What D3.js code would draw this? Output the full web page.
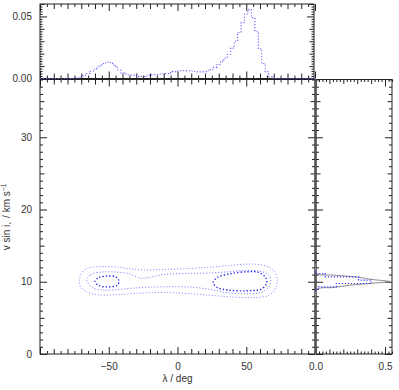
<!DOCTYPE html>
<html>
<head>
<meta charset="utf-8">
<script src="https://cdn.jsdelivr.net/npm/d3@7"></script>
<style>
  body { margin: 0; background: #fff; }
  text { font-family: "Liberation Sans", Arial, sans-serif; font-size: 10px; fill: #333; }
  .tick line { stroke: #222; }
</style>
</head>
<body>
<div id="chart"></div>
<script>
// ---- data ----

// top panel: distribution of lambda
const lamX = [-100, -75, -72.5, -70, -67.5, -65, -62.5, -60, -57.5, -55, -52.5, -50, -47.5, -45, -42.5, -40,
  -37.5, -35, -32.5, -30, -27.5, -25, -22.5, -20, -17.5, -15, -12.5, -10, -7.5, -5, -2.5, 0, 2.5, 5, 7.5, 10,
  12.5, 15, 17.5, 20, 22.5, 25, 27.5, 30, 32.5, 35, 37.5, 40, 42.5, 45, 47.5, 50, 52.5, 55, 57.5, 60, 62.5,
  65, 67.5, 70, 72.5, 100];
const lamDensity = [0, 0, 0.0005, 0.0012, 0.0025, 0.004, 0.0058, 0.0075, 0.0095, 0.011, 0.0125, 0.0133, 0.0122,
  0.0098, 0.0068, 0.0045, 0.0035, 0.003, 0.0027, 0.0022, 0.0017, 0.0016, 0.002, 0.0026, 0.003, 0.0032, 0.0034,
  0.0036, 0.004, 0.0047, 0.0055, 0.006, 0.0063, 0.0064, 0.0063, 0.006, 0.0056, 0.0053, 0.0053, 0.0055, 0.0062,
  0.0072, 0.009, 0.0112, 0.0138, 0.0165, 0.0195, 0.0245, 0.03, 0.037, 0.045, 0.052, 0.0555, 0.049, 0.038,
  0.024, 0.012, 0.0055, 0.0015, 0.0003, 0, 0];

// right panel: histogram of v sin i (bin edges + heights)
const vEdges = [8.84, 9.30, 9.76, 10.22, 10.68, 11.14, 11.60];
const vHist = [0.02, 0.15, 0.40, 0.31, 0.07, 0.0];

// right panel: smooth curve
const vCurve = [7.5, 8.94, 9.21, 9.53, 9.77, 10.04, 10.13, 10.36, 10.6, 10.92, 11.15, 12.5];
const pCurve = [0, 0.01, 0.13, 0.25, 0.40, 0.535, 0.5, 0.39, 0.32, 0.13, 0.01, 0];

// main panel: contour outlines [lambda, vsini]
const contourOuter = [[-71.4, 10.2], [-69, 11.4], [-64, 11.95], [-55, 12.1], [-45, 12.05], [-35, 11.8],
  [-25, 11.65], [-10, 11.7], [10, 11.85], [25, 12.05], [40, 12.3], [52, 12.45], [62, 12.3], [69, 11.7],
  [72.6, 10.4], [71, 9.0], [66, 8.1], [55, 7.82], [40, 7.9], [25, 8.1], [10, 8.35], [-10, 8.5], [-30, 8.4],
  [-45, 8.2], [-58, 8.2], [-66, 8.6], [-70.5, 9.3]];
const contourMiddle = [[-66, 10.2], [-63, 11.0], [-55, 11.35], [-45, 11.35], [-35, 11.1], [-27, 10.5],
  [-22, 10.55], [-10, 11.0], [5, 11.15], [20, 11.2], [35, 11.35], [50, 11.55], [60, 11.45], [66, 11.0],
  [67.8, 10.2], [66, 9.2], [60, 8.5], [50, 8.35], [35, 8.5], [25, 8.9], [10, 9.25], [-10, 9.3], [-30, 9.15],
  [-45, 8.9], [-55, 8.85], [-62, 9.2]];
const contourInnerL = [[-60, 10.05], [-57, 10.6], [-51, 10.78], [-45, 10.7], [-42.5, 10.1], [-44, 9.5],
  [-50, 9.3], [-57, 9.45]];
const contourInnerR = [[26, 9.9], [29, 10.6], [38, 11.1], [50, 11.38], [59, 11.3], [64, 10.6], [64.8, 9.8],
  [61, 9.0], [50, 8.75], [37, 8.85], [29, 9.2]];

// tick labels
const lamLabels = [-50, 0, 50];
const vLabels = [0, 10, 20, 30];
const densLabels = [0, 0.05];
const pLabels = [0, 0.5];

// ---- layout ----
const W = 399, H = 390;
const main = { l: 40, r: 315, t: 79.5, b: 354 };
const topP = { t: 4, b: 78.5 };
const side = { l: 316, r: 392 };

const svg = d3.select("#chart").append("svg").attr("width", W).attr("height", H);

const x = d3.scaleLinear().domain([-100, 100]).range([main.l, main.r]);
const y = d3.scaleLinear().domain([0, 38]).range([main.b, main.t]);
const yTop = d3.scaleLinear().domain([0, 0.06]).range([topP.b, topP.t]);
const xSide = d3.scaleLinear().domain([0, 0.55]).range([side.l - 0.5, side.r]);

const near = (v, m) => Math.abs(v / m - Math.round(v / m)) < 1e-6;

function ticks(axisFn, scale, vals, tx, ty, lenFn, labelVals, fmt, pad) {
  vals.forEach(v => {
    const g = svg.append("g").attr("transform", `translate(${tx},${ty})`);
    const labelled = labelVals && labelVals.some(l => Math.abs(l - v) < 1e-9);
    g.call(axisFn(scale).tickValues([v]).tickSize(-lenFn(v)).tickPadding(pad || 3)
      .tickFormat(labelled ? fmt : () => ""));
    g.select(".domain").remove();
  });
}

const lamVals = d3.range(-20, 21).map(i => i * 5);
const lamLen = v => near(v, 50) ? 7 : near(v, 10) ? 5 : 3;
const vVals = d3.range(0, 39);
const vLen = v => near(v, 10) ? 7 : near(v, 5) ? 4.5 : 3;
const dVals = d3.range(0, 31).map(i => i * 0.002);
const dLen = v => near(v, 0.05) ? 7 : near(v, 0.01) ? 4.5 : 2.5;
const pVals = d3.range(0, 23).map(i => i * 0.025);
const pLen = v => near(v, 0.5) ? 7 : near(v, 0.1) ? 4.5 : 2.5;

const fmtLam = d => String(d).replace("-", "\u2212");

// main panel ticks
ticks(d3.axisBottom, x, lamVals, 0, main.b, lamLen, lamLabels, fmtLam, 9);
ticks(d3.axisTop, x, lamVals, 0, main.t, lamLen);
ticks(d3.axisLeft, y, vVals, main.l, 0, vLen, vLabels, d3.format("d"), 8);
ticks(d3.axisRight, y, vVals, main.r, 0, vLen);

// top panel ticks
ticks(d3.axisBottom, x, lamVals, 0, topP.b, lamLen);
ticks(d3.axisTop, x, lamVals, 0, topP.t, lamLen);
ticks(d3.axisLeft, yTop, dVals, main.l, 0, dLen, densLabels, d3.format(".2f"), 8);
ticks(d3.axisRight, yTop, dVals, main.r - 1, 0, dLen);

// side panel ticks
ticks(d3.axisBottom, xSide, pVals, 0, main.b, pLen, pLabels, d3.format(".1f"), 9);
ticks(d3.axisTop, xSide, pVals, 0, main.t, pLen);
ticks(d3.axisLeft, y, vVals, side.l, 0, vLen);
ticks(d3.axisRight, y, vVals, side.r, 0, vLen);

// frames
svg.append("rect").attr("x", main.l).attr("y", main.t).attr("width", main.r - main.l).attr("height", main.b - main.t)
  .attr("fill", "none").attr("stroke", "#222");
svg.append("rect").attr("x", main.l).attr("y", topP.t).attr("width", main.r - 1 - main.l).attr("height", topP.b - topP.t)
  .attr("fill", "none").attr("stroke", "#222");
svg.append("rect").attr("x", side.l).attr("y", main.t).attr("width", side.r - side.l).attr("height", main.b - main.t)
  .attr("fill", "none").attr("stroke", "#222");
svg.append("line").attr("x1", main.r + 0.5).attr("x2", main.r + 0.5).attr("y1", main.t).attr("y2", main.b)
  .attr("stroke", "#555").attr("stroke-width", 2);

// contours
const contourLine = d3.line().x(d => x(d[0])).y(d => y(d[1])).curve(d3.curveCatmullRomClosed.alpha(0.5));
[[contourOuter, "#8080ff", 1, "1,2"], [contourMiddle, "#7070ff", 1, "1,2"],
 [contourInnerL, "#2a2aee", 1.4, "1.4,2"], [contourInnerR, "#2a2aee", 1.4, "1.4,2"]].forEach(([pts, c, w, da]) => {
  svg.append("path").attr("d", contourLine(pts)).attr("fill", "none")
    .attr("stroke", c).attr("stroke-width", w).attr("stroke-dasharray", da);
});

// top distribution
const lamPts = lamX.map((v, i) => [v, lamDensity[i]]);
svg.append("path")
  .attr("d", d3.line().x(d => x(d[0])).y(d => yTop(d[1])).curve(d3.curveStep)(lamPts))
  .attr("fill", "none").attr("stroke", "#5a5aff").attr("stroke-width", 1.1).attr("stroke-dasharray", "1.1,1.9");

// side: smooth curve
const curvePts = vCurve.map((v, i) => [pCurve[i], v]);
svg.append("path")
  .attr("d", d3.line().x(d => xSide(d[0])).y(d => y(d[1])).curve(d3.curveCatmullRom)(curvePts))
  .attr("fill", "none").attr("stroke", "#8a8a8a").attr("stroke-width", 1);

// side: step histogram
const histPts = [[0, vEdges[0]]];
vHist.forEach((h, i) => { histPts.push([h, vEdges[i]]); histPts.push([h, vEdges[i + 1]]); });
histPts.push([0, vEdges[vEdges.length - 1]]);
svg.append("path")
  .attr("d", d3.line().x(d => xSide(d[0])).y(d => y(d[1]))(histPts))
  .attr("fill", "none").attr("stroke", "#3a3aff").attr("stroke-width", 1.2).attr("stroke-dasharray", "1.2,1.8");

// axis titles
svg.append("text").attr("x", x(0)).attr("y", 382).attr("text-anchor", "middle").text("\u03bb / deg");
const yl = svg.append("text").attr("transform", `translate(10,${(main.t + main.b) / 2}) rotate(-90)`)
  .attr("text-anchor", "middle");
yl.append("tspan").text("v sin i");
yl.append("tspan").attr("font-size", "6px").attr("dy", 2).text("\u22c6");
yl.append("tspan").attr("dy", -2).text(" / km s");
yl.append("tspan").attr("font-size", "7px").attr("dy", -4).text("\u22121");
</script>
</body>
</html>
